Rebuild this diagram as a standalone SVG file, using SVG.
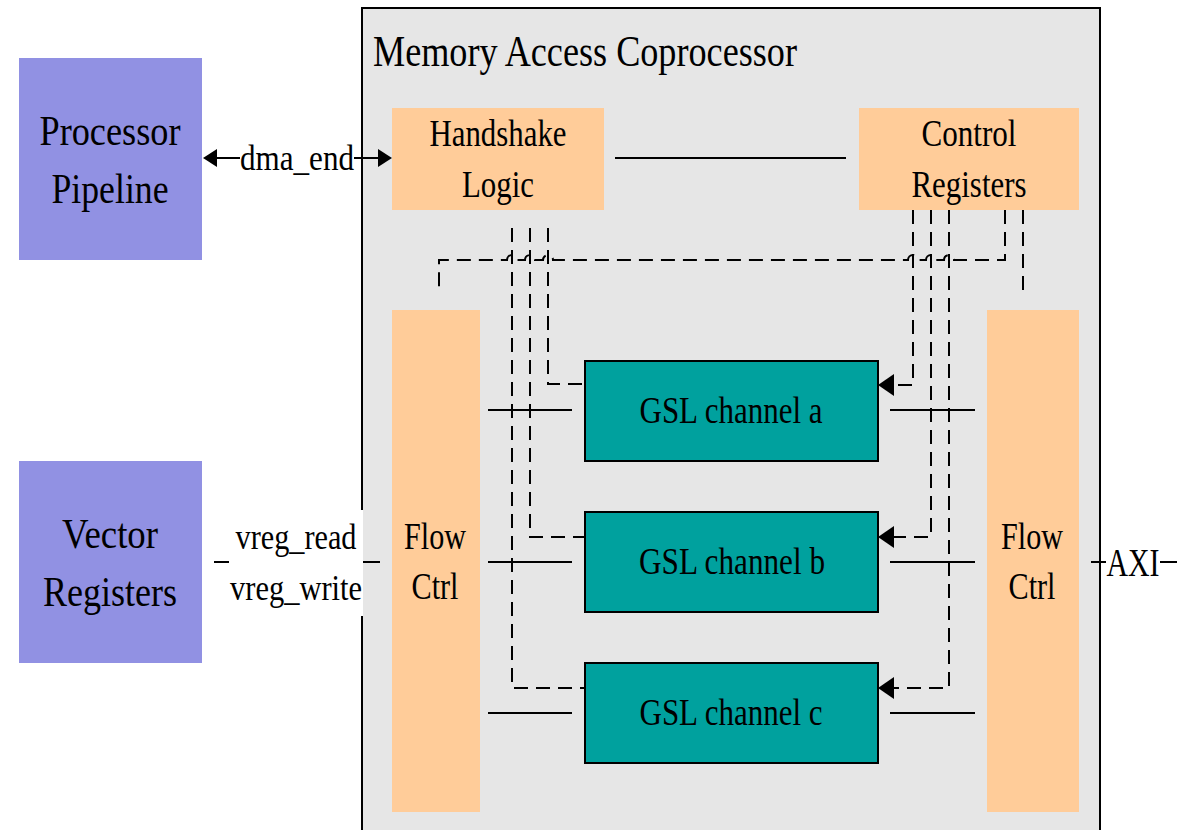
<svg xmlns="http://www.w3.org/2000/svg" width="1177" height="830" viewBox="0 0 1177 830">
<style>
text{font-family:"Liberation Serif","Times New Roman",serif;fill:#000;text-anchor:middle}
.ext{fill:#9191e3}
.peach{fill:#ffcc99}
.gsl{fill:#00a19e;stroke:#000;stroke-width:2}
.solid{stroke:#000;stroke-width:2;fill:none}
.dash{stroke:#000;stroke-width:2;fill:none;stroke-dasharray:14 8}
</style>
<defs>
<marker id="arr" markerUnits="userSpaceOnUse" markerWidth="18" markerHeight="24" refX="0" refY="11" orient="auto" viewBox="0 0 18 22">
<path d="M0,0 L16,11 L0,22 z" fill="#000"/>
</marker>
<marker id="arrS" markerUnits="userSpaceOnUse" markerWidth="16" markerHeight="20" refX="0" refY="9" orient="auto" viewBox="0 0 16 18">
<path d="M0,0 L14,9 L0,18 z" fill="#000"/>
</marker>
</defs>
<rect width="1177" height="830" fill="#fff"/>
<g id="coprocessor">
<rect x="362" y="8" width="738" height="840" fill="#e6e6e6" stroke="#000" stroke-width="2"/>
<text x="373" y="66" font-size="44" style="text-anchor:start" textLength="424" lengthAdjust="spacingAndGlyphs">Memory Access Coprocessor</text>
</g>
<g id="connectors">
<path class="solid" d="M615,158 H846"/>
<path class="solid" d="M240,158 H217" marker-end="url(#arrS)"/>
<path class="solid" d="M354,158 H378" marker-end="url(#arrS)"/>
<path class="solid" d="M488,410 H572 M890,410 H975 M488,562 H572 M890,562 H975 M488,713 H572 M890,713 H975"/>
<path class="dash" d="M1005,210 V260 H954 A5,5 0 0 0 944,260 H936 A5,5 0 0 0 926,260 H918 A5,5 0 0 0 908,260 H553 A5,5 0 0 0 543,260 H535 A5,5 0 0 0 525,260 H517 A5,5 0 0 0 507,260 H439 V292"/>
<path class="dash" d="M1023,210 V292"/>
<path class="dash" d="M548,228 V384 H584"/>
<path class="dash" d="M530,228 V537 H584"/>
<path class="dash" d="M512,228 V688 H584"/>
<path class="dash" d="M913,210 V385 H894" marker-end="url(#arr)"/>
<path class="dash" d="M931,210 V537 H894" marker-end="url(#arr)"/>
<path class="dash" d="M949,210 V688 H894" marker-end="url(#arr)"/>
<path class="solid" d="M214,562 H229 M362,562 H380"/>
<path class="solid" d="M1091,562 H1106 M1160,562 H1177"/>
</g>
<g id="processor-pipeline">
<rect class="ext" x="19" y="58" width="183" height="202"/>
<text x="110" y="145" font-size="42" textLength="141" lengthAdjust="spacingAndGlyphs">Processor</text>
<text x="110" y="203" font-size="42" textLength="117" lengthAdjust="spacingAndGlyphs">Pipeline</text>
</g>
<g id="vector-registers">
<rect class="ext" x="19" y="461" width="183" height="202"/>
<text x="110" y="548" font-size="42" textLength="96" lengthAdjust="spacingAndGlyphs">Vector</text>
<text x="110" y="606" font-size="42" textLength="134" lengthAdjust="spacingAndGlyphs">Registers</text>
</g>
<g id="handshake-logic">
<rect class="peach" x="392" y="108" width="212" height="102"/>
<text x="498" y="146" font-size="38" textLength="137" lengthAdjust="spacingAndGlyphs">Handshake</text>
<text x="498" y="197" font-size="38" textLength="72" lengthAdjust="spacingAndGlyphs">Logic</text>
</g>
<g id="control-registers">
<rect class="peach" x="859" y="108" width="220" height="102"/>
<text x="969" y="146" font-size="38" textLength="95" lengthAdjust="spacingAndGlyphs">Control</text>
<text x="969" y="197" font-size="38" textLength="115" lengthAdjust="spacingAndGlyphs">Registers</text>
</g>
<g id="flow-ctrl-left">
<rect class="peach" x="392" y="310" width="88" height="502"/>
<text x="435" y="549" font-size="38" textLength="62" lengthAdjust="spacingAndGlyphs">Flow</text>
<text x="435" y="599" font-size="38" textLength="47" lengthAdjust="spacingAndGlyphs">Ctrl</text>
</g>
<g id="flow-ctrl-right">
<rect class="peach" x="987" y="310" width="92" height="502"/>
<text x="1032" y="549" font-size="38" textLength="62" lengthAdjust="spacingAndGlyphs">Flow</text>
<text x="1032" y="599" font-size="38" textLength="47" lengthAdjust="spacingAndGlyphs">Ctrl</text>
</g>
<g id="gsl-a">
<rect class="gsl" x="585" y="361" width="293" height="100"/>
<text x="731" y="423" font-size="38" textLength="183" lengthAdjust="spacingAndGlyphs">GSL channel a</text>
</g>
<g id="gsl-b">
<rect class="gsl" x="585" y="512" width="293" height="100"/>
<text x="732" y="574" font-size="38" textLength="186" lengthAdjust="spacingAndGlyphs">GSL channel b</text>
</g>
<g id="gsl-c">
<rect class="gsl" x="585" y="663" width="293" height="100"/>
<text x="731" y="725" font-size="38" textLength="183" lengthAdjust="spacingAndGlyphs">GSL channel c</text>
</g>
<g id="labels">
<text x="297" y="170" font-size="36" textLength="114" lengthAdjust="spacingAndGlyphs">dma_end</text>
<rect x="229" y="510" width="134" height="106" fill="#fff"/>
<text x="296" y="549" font-size="36" textLength="121" lengthAdjust="spacingAndGlyphs">vreg_read</text>
<text x="296" y="600" font-size="36" textLength="132" lengthAdjust="spacingAndGlyphs">vreg_write</text>
<text x="1133" y="576" font-size="40" textLength="53" lengthAdjust="spacingAndGlyphs">AXI</text>
</g>
</svg>
